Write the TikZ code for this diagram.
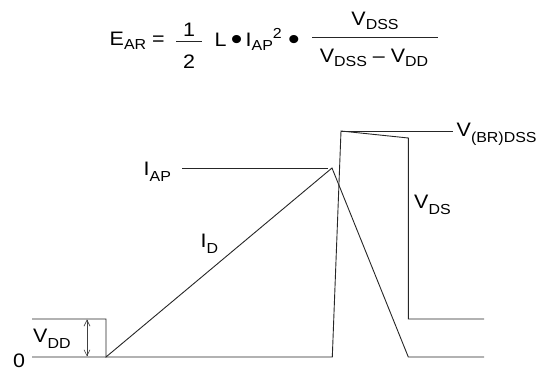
\documentclass[tikz,border=0pt]{standalone}
\usepackage{fontspec}
\setmainfont{Liberation Sans}[FakeStretch=1.1]
\usetikzlibrary{arrows.meta}
\newcommand\lsub[1]{\raisebox{-6pt}{\fontsize{14.5}{14.5}\selectfont #1}}
\newcommand\esub[1]{\raisebox{-4pt}{\fontsize{14.5}{14.5}\selectfont #1}}
\newcommand\esup[1]{\raisebox{7.5pt}{\fontsize{14.5}{14.5}\selectfont #1}}
\begin{document}
\begin{tikzpicture}[x=1pt,y=-1pt,
  wave/.style={draw=black!85, line width=0.9pt, line join=miter},
  fbar/.style={draw=black!85, line width=0.9pt},
  dimarrow/.style={draw=black!75, line width=0.6pt, {Straight Barb[length=6pt,width=6pt]}-{Straight Barb[length=6pt,width=6pt]}},
  lbl/.style={inner sep=0pt, font=\fontsize{19.5}{19.5}\selectfont},
  eq/.style={inner sep=0pt, font=\fontsize{19.5}{19.5}\selectfont},
  dot/.style={inner sep=0pt, font=\fontsize{30}{30}\selectfont}]
\useasboundingbox (0,0) rectangle (547,371);
% formula
\node[eq, anchor=base west] (ear) at (109.5,46) {E\esub{AR} =};
\node[eq, anchor=base] (one) at (189,36.5) {1};
\node[eq, anchor=base] (two) at (189,69) {2};
\coordinate (b1l) at (176,41.5);
\coordinate (b1r) at (202,41.5);
\draw[fbar] (b1l) -- (b1r);
\node[eq, anchor=base west] (ell) at (214.5,46.5) {L};
\node[dot, anchor=base] (d1) at (236.7,50) {•};
\node[eq, anchor=base west] (iap) at (245.5,46.5) {I\esub{AP}\esup{2}};
\node[dot, anchor=base] (d2) at (294,50) {•};
\node[eq, anchor=base] (num) at (375,26) {V\esub{DSS}};
\node[eq, anchor=base] (den) at (374,62.5) {V\esub{DSS} – V\esub{DD}};
\coordinate (b2l) at (312,37.5);
\coordinate (b2r) at (438,37.5);
\draw[fbar] (b2l) -- (b2r);
% waveform points
\coordinate (o0) at (32,357);
\coordinate (v0) at (32,319);
\coordinate (v1) at (106,319);
\coordinate (r0) at (106,357);
\coordinate (pk) at (332,168);
\coordinate (f0) at (332.3,357);
\coordinate (ie) at (408.3,357);
\coordinate (it) at (484,357);
\coordinate (vt) at (341,131);
\coordinate (br) at (453,131);
\coordinate (vr) at (408.3,138);
\coordinate (vb) at (408.3,319);
\coordinate (vtl) at (484,319);
\coordinate (ia0) at (182,168);
\coordinate (ia1) at (327.5,168);
\coordinate (a0) at (87,319.5);
\coordinate (a1) at (87,356.5);
\draw[wave] (o0) -- (f0) -- (vt) -- (vr) -- (vb) -- (vtl);
\draw[wave] (v0) -- (v1) -- (r0) -- (pk) -- (ie) -- (it);
\draw[wave] (vt) -- (br);
\draw[wave] (ia0) -- (ia1);
\draw[dimarrow] (a0) -- (a1);
% labels
\node[lbl, anchor=base] (zero) at (19,367.5) {0};
\node[lbl, anchor=base west] (lvdd) at (33,342.5) {V\lsub{DD}};
\node[lbl, anchor=base west] (liap) at (143.5,176) {I\lsub{AP}};
\node[lbl, anchor=base west] (lid) at (200.5,248) {I\lsub{D}};
\node[lbl, anchor=base west] (lvds) at (414,209) {V\lsub{DS}};
\node[lbl, anchor=base west] (lbr) at (456.5,136.5) {V\lsub{(BR)DSS}};
\end{tikzpicture}
\end{document}
